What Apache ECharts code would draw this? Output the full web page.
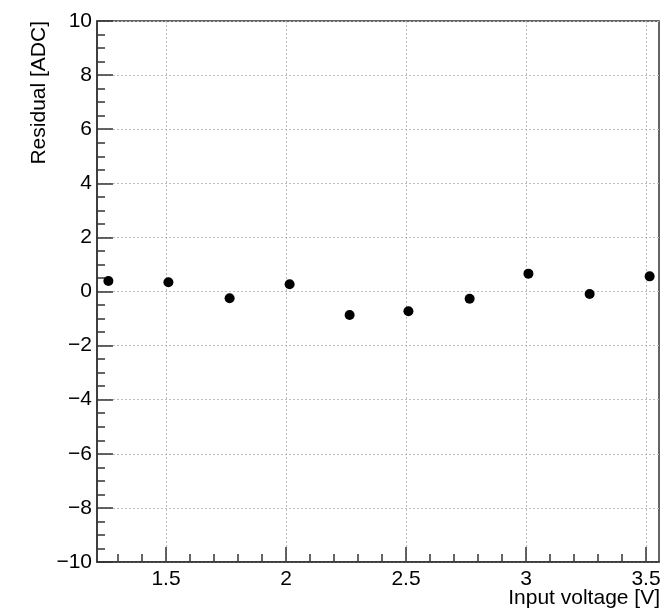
<!DOCTYPE html>
<html><head><meta charset="utf-8">
<script src="https://cdn.jsdelivr.net/npm/echarts@6/dist/echarts.min.js"></script>
<style>html,body{margin:0;padding:0;background:#fff}#c{width:664px;height:612px}</style>
</head><body><div id="c"></div>
<script>
const voltages = [1.26, 1.51, 1.765, 2.015, 2.265, 2.51, 2.765, 3.01, 3.265, 3.515];
const residuals = [0.39, 0.34, -0.25, 0.27, -0.87, -0.73, -0.27, 0.66, -0.09, 0.56];
const xMajorTicks = [1.5, 2, 2.5, 3, 3.5];
const xMinorTicks = [1.3, 1.4, 1.6, 1.7, 1.8, 1.9, 2.1, 2.2, 2.3, 2.4, 2.6, 2.7, 2.8, 2.9, 3.1, 3.2, 3.3, 3.4, 3.5];
const xRange = [1.2125, 3.554];
const yRange = [-10, 10];
const xTitle = 'Input voltage [V]';
const yTitle = 'Residual [ADC]';

const font = 'Liberation Sans, Arial, Helvetica, sans-serif';
const chart = echarts.init(document.getElementById('c'), null, {renderer: 'canvas'});
chart.setOption({
  animation: false,
  backgroundColor: '#fff',
  grid: {left: 97, right: 5, top: 21, bottom: 50, show: true, borderColor: '#333', borderWidth: 1.5, backgroundColor: 'transparent'},
  xAxis: [{
    type: 'value', min: xRange[0], max: xRange[1],
    axisLine: {show: true, onZero: false, lineStyle: {color: '#333', width: 1.5}},
    axisTick: {show: true, inside: true, length: 15, lineStyle: {color: '#333', width: 1.5}, customValues: xMajorTicks},
    axisLabel: {customValues: xMajorTicks, color: '#000', fontSize: 21, fontFamily: font, margin: 7, formatter: v => String(v)},
    splitLine: {show: true, lineStyle: {color: '#bbb', type: [2, 2], width: 1}},
  }, {
    type: 'value', min: xRange[0], max: xRange[1], gridIndex: 0, position: 'bottom',
    axisLine: {show: false, onZero: false},
    axisTick: {show: true, inside: true, length: 8, lineStyle: {color: '#333', width: 1.5}, customValues: xMinorTicks},
    axisLabel: {show: false},
    splitLine: {show: false}
  }],
  yAxis: {
    type: 'value', min: yRange[0], max: yRange[1], interval: 2,
    axisLine: {show: true, onZero: false, lineStyle: {color: '#333', width: 1.5}},
    axisTick: {show: true, inside: true, length: 16, lineStyle: {color: '#333', width: 1.5}},
    minorTick: {show: true, splitNumber: 4, length: 8, lineStyle: {color: '#333', width: 1.5}},
    axisLabel: {color: '#000', fontSize: 21, fontFamily: font, margin: 5, formatter: v => v < 0 ? '\u2212' + (-v) : String(v)},
    splitLine: {show: true, lineStyle: {color: '#bbb', type: [2, 2], width: 1}},
  },
  graphic: [
    {type: 'text', x: 660, y: 598, style: {text: xTitle, fontSize: 21, fontFamily: font, fill: '#000', textAlign: 'right', textVerticalAlign: 'middle'}},
    {type: 'text', x: 39, y: 21, rotation: Math.PI / 2, style: {text: yTitle, fontSize: 21, fontFamily: font, fill: '#000', textAlign: 'right', textVerticalAlign: 'middle'}}
  ],
  series: [{
    type: 'scatter', xAxisIndex: 0,
    data: voltages.map((v, i) => [v, residuals[i]]),
    symbol: 'circle', symbolSize: 10,
    itemStyle: {color: '#000', opacity: 1}
  }]
});
</script></body></html>
